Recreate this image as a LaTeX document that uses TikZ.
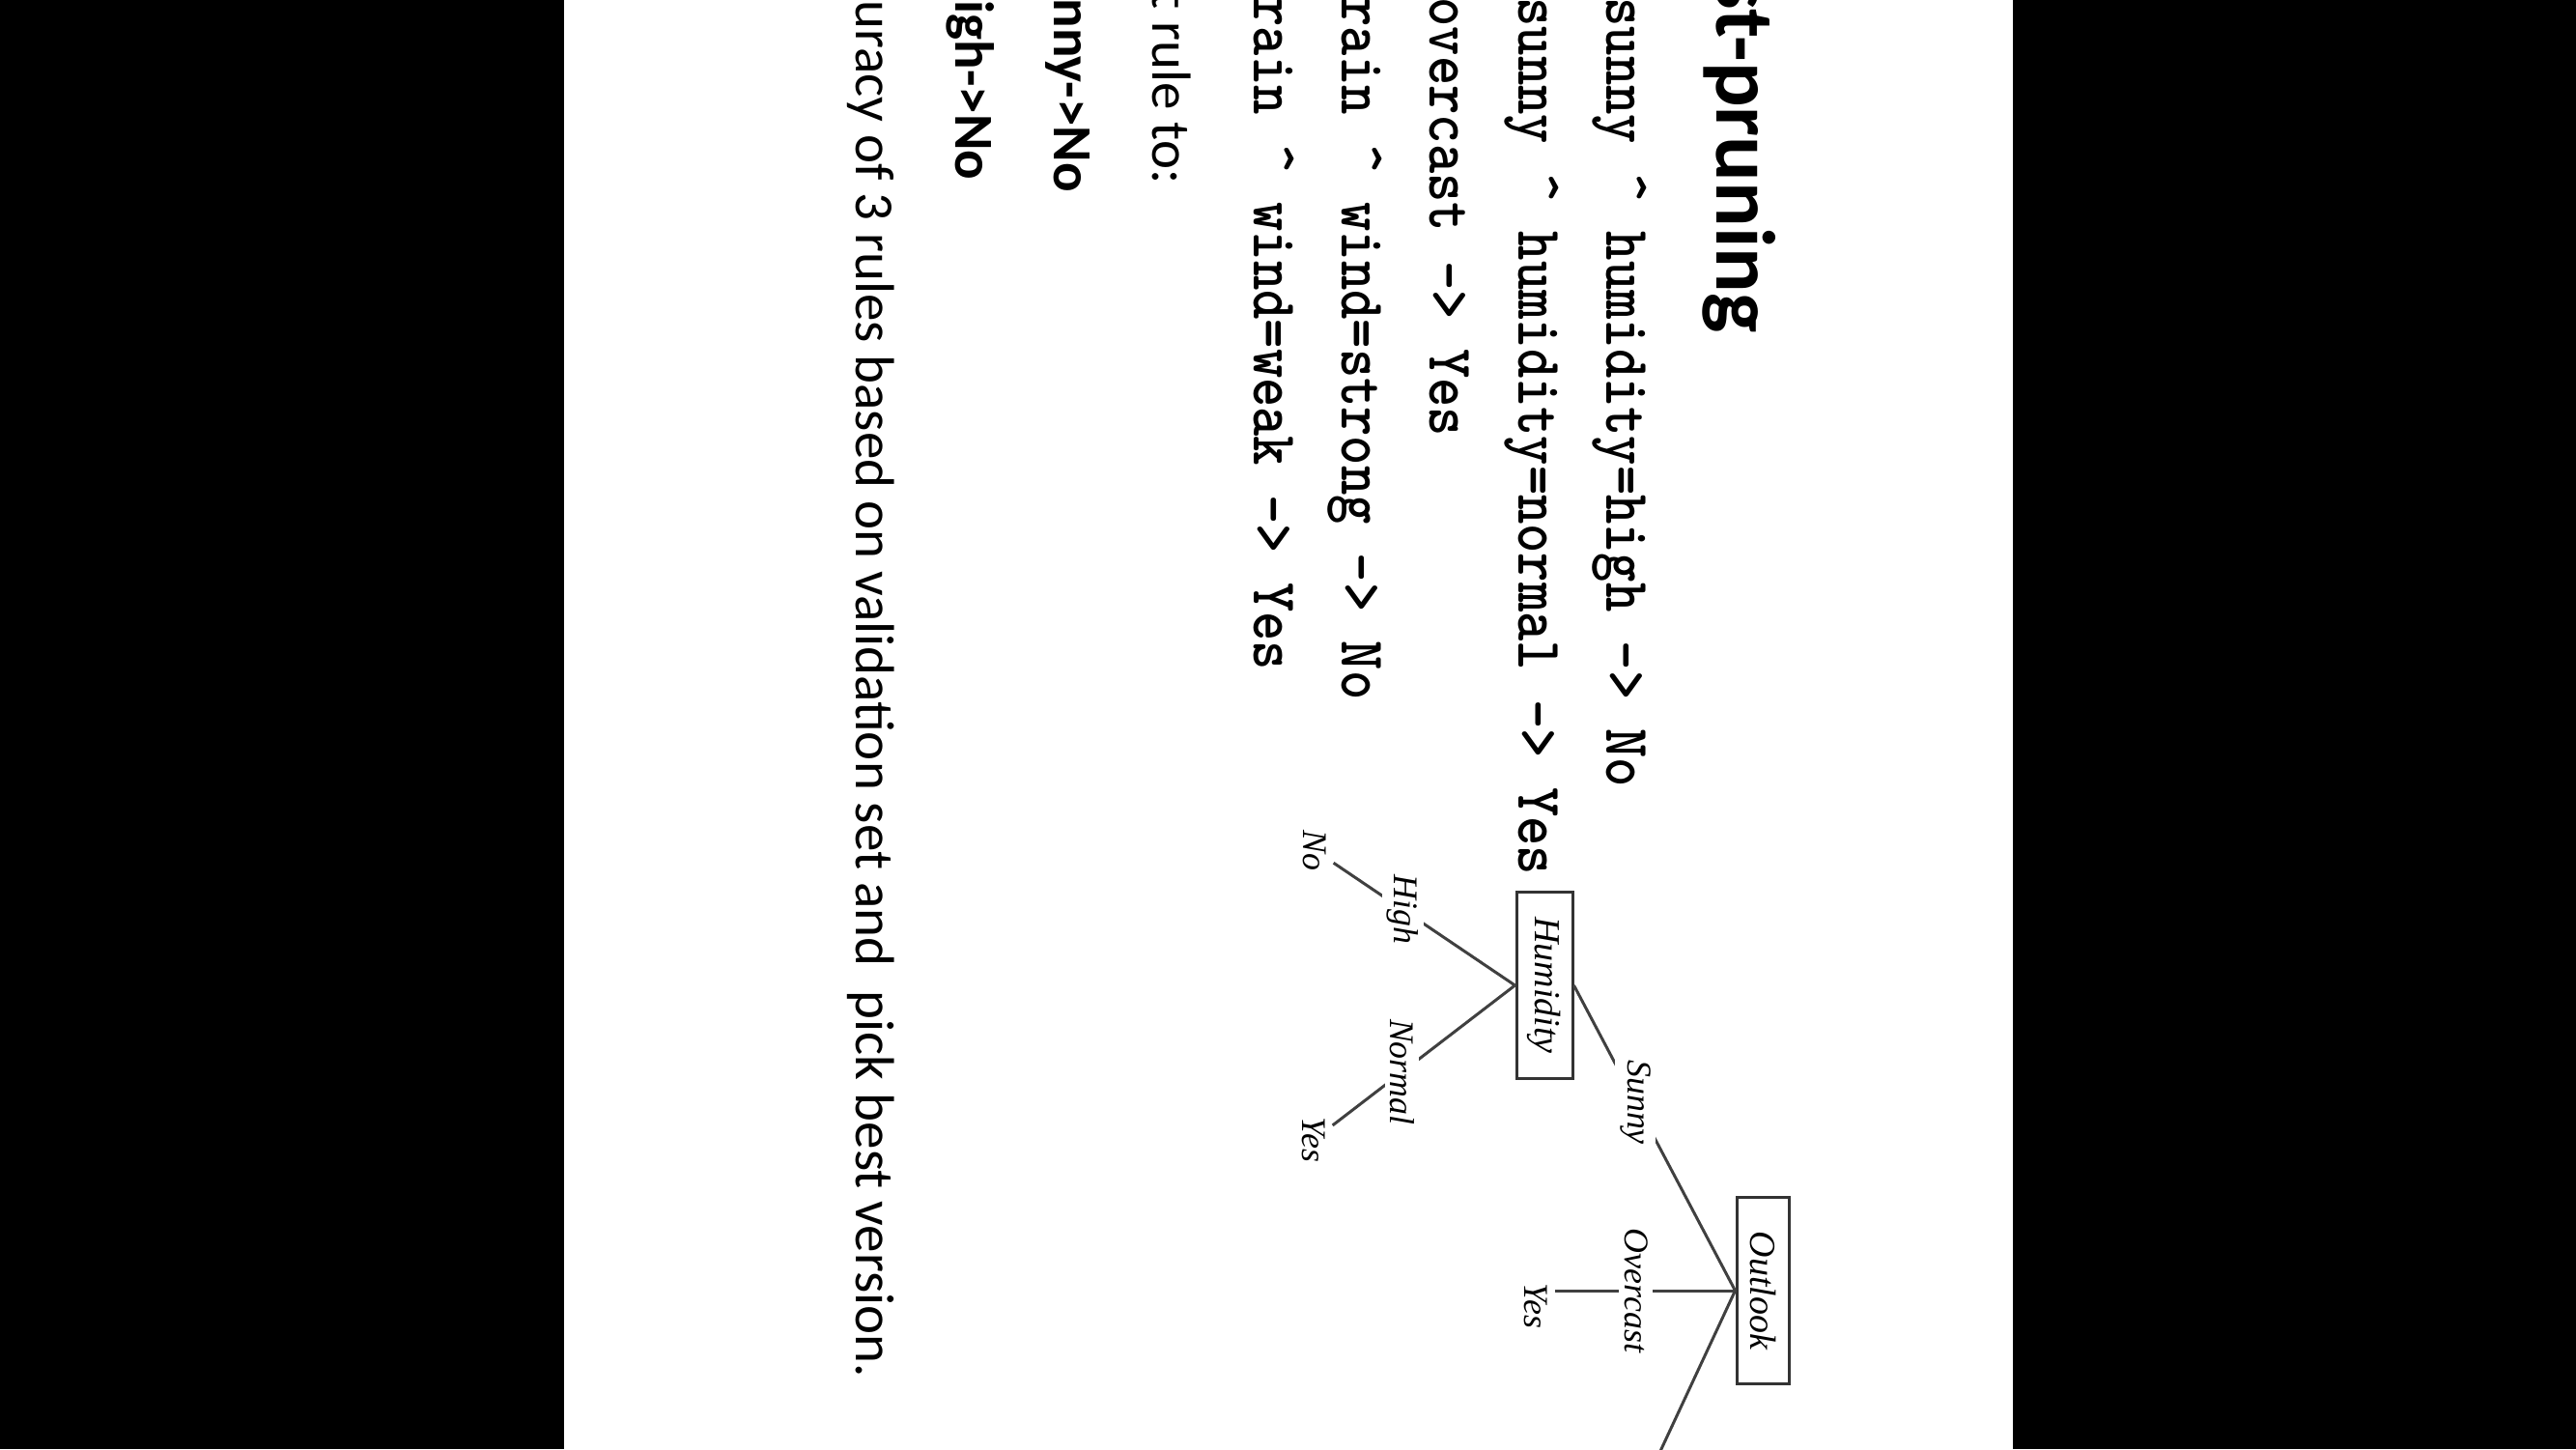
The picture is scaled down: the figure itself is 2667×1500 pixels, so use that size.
\documentclass[tikz,border=0pt]{standalone}
\usepackage{graphicx}
\usepackage{fontspec}
\setmainfont{Carlito}
\newfontfamily\treefont{Liberation Serif}
\usepackage{tikz}
\usetikzlibrary{positioning}

\newcommand{\tallcode}[1]{\scalebox{1}[1.15]{#1}}

\begin{document}
\begin{tikzpicture}[
    x=0.01cm, y=-0.01cm,
    slide/.style={rotate=-90, anchor=base west, inner sep=0pt, text=black},
    heading/.style={slide, font=\fontsize{24.75pt}{28pt}\selectfont\bfseries},
    rulecode/.style={slide, font=\fontsize{16.4pt}{19pt}\selectfont\ttfamily\bfseries},
    bodytext/.style={slide, font=\fontsize{16.2pt}{19pt}\selectfont},
    attr/.style={rectangle, draw=black!80, line width=0.85pt, rotate=-90, minimum width=1.92cm, minimum height=0.54cm, font=\treefont\itshape\fontsize{10.8pt}{12pt}\selectfont},
    branchlabel/.style={fill=white, inner sep=1.5pt, rotate=-90, font=\treefont\itshape\fontsize{10.2pt}{12pt}\selectfont},
    leaf/.style={inner sep=2pt, rotate=-90, font=\treefont\itshape\fontsize{10.2pt}{12pt}\selectfont},
    branch/.style={draw=black!75, line width=0.85pt}
]
    \useasboundingbox (0,0) rectangle (2667,1500);

    % Photo frame
    \fill[black] (0,0) rectangle (2667,1500);
    \fill[white] (584,0) rectangle (2084,1500);
    \clip (584,0) rectangle (2084,1500);

    % Title
    \node[heading] (title) at (1777,-25) {st-pruning};

    % Rules
    \node[rulecode] (rule1) at (1663,-3) {\tallcode{sunny \textasciicircum{} humidity=high -> No}};
    \node[rulecode] (rule2) at (1572,-3) {\tallcode{sunny \textasciicircum{} humidity=normal -> Yes}};
    \node[rulecode] (rule3) at (1480,-3) {\tallcode{overcast -> Yes}};
    \node[rulecode] (rule4) at (1389,-3) {\tallcode{rain \textasciicircum{} wind=strong -> No}};
    \node[rulecode] (rule5) at (1298,-3) {\tallcode{rain \textasciicircum{} wind=weak -> Yes}};

    % Pruned rule
    \node[bodytext] (prune) at (1193,-10) {t rule to:};
    \node[bodytext, font=\fontsize{16.2pt}{19pt}\selectfont\bfseries] (short1) at (1091,-2) {nny->No};
    \node[bodytext, font=\fontsize{16.2pt}{19pt}\selectfont\bfseries] (short2) at (989,0) {igh->No};
    \node[bodytext] (accuracy) at (886,0) {uracy of 3 rules based on validation set and\ \ pick best version.};

    % Tree
    \node[attr] (outlook) at (1825,1336) {Outlook};
    \node[attr] (humidity) at (1599,1020) {Humidity};
    \node[leaf] (ovyes) at (1590,1352) {Yes};
    \node[leaf] (leafno) at (1361,880) {No};
    \node[leaf] (leafyes) at (1360,1180) {Yes};
    \coordinate (rainend) at (1713,1515);

    \draw[branch] (outlook.south) -- node[branchlabel, pos=0.617] {Sunny} (humidity.north);
    \draw[branch] (outlook.south) -- node[branchlabel, pos=0.55] {Overcast} (outlook.south -| ovyes.north);
    \draw[branch] (outlook.south) -- (rainend);

    \draw[branch] (humidity.south) -- node[branchlabel, pos=0.62] {High} (leafno);
    \draw[branch] (humidity.south) -- node[branchlabel, pos=0.62] {Normal} (leafyes);
\end{tikzpicture}
\end{document}
